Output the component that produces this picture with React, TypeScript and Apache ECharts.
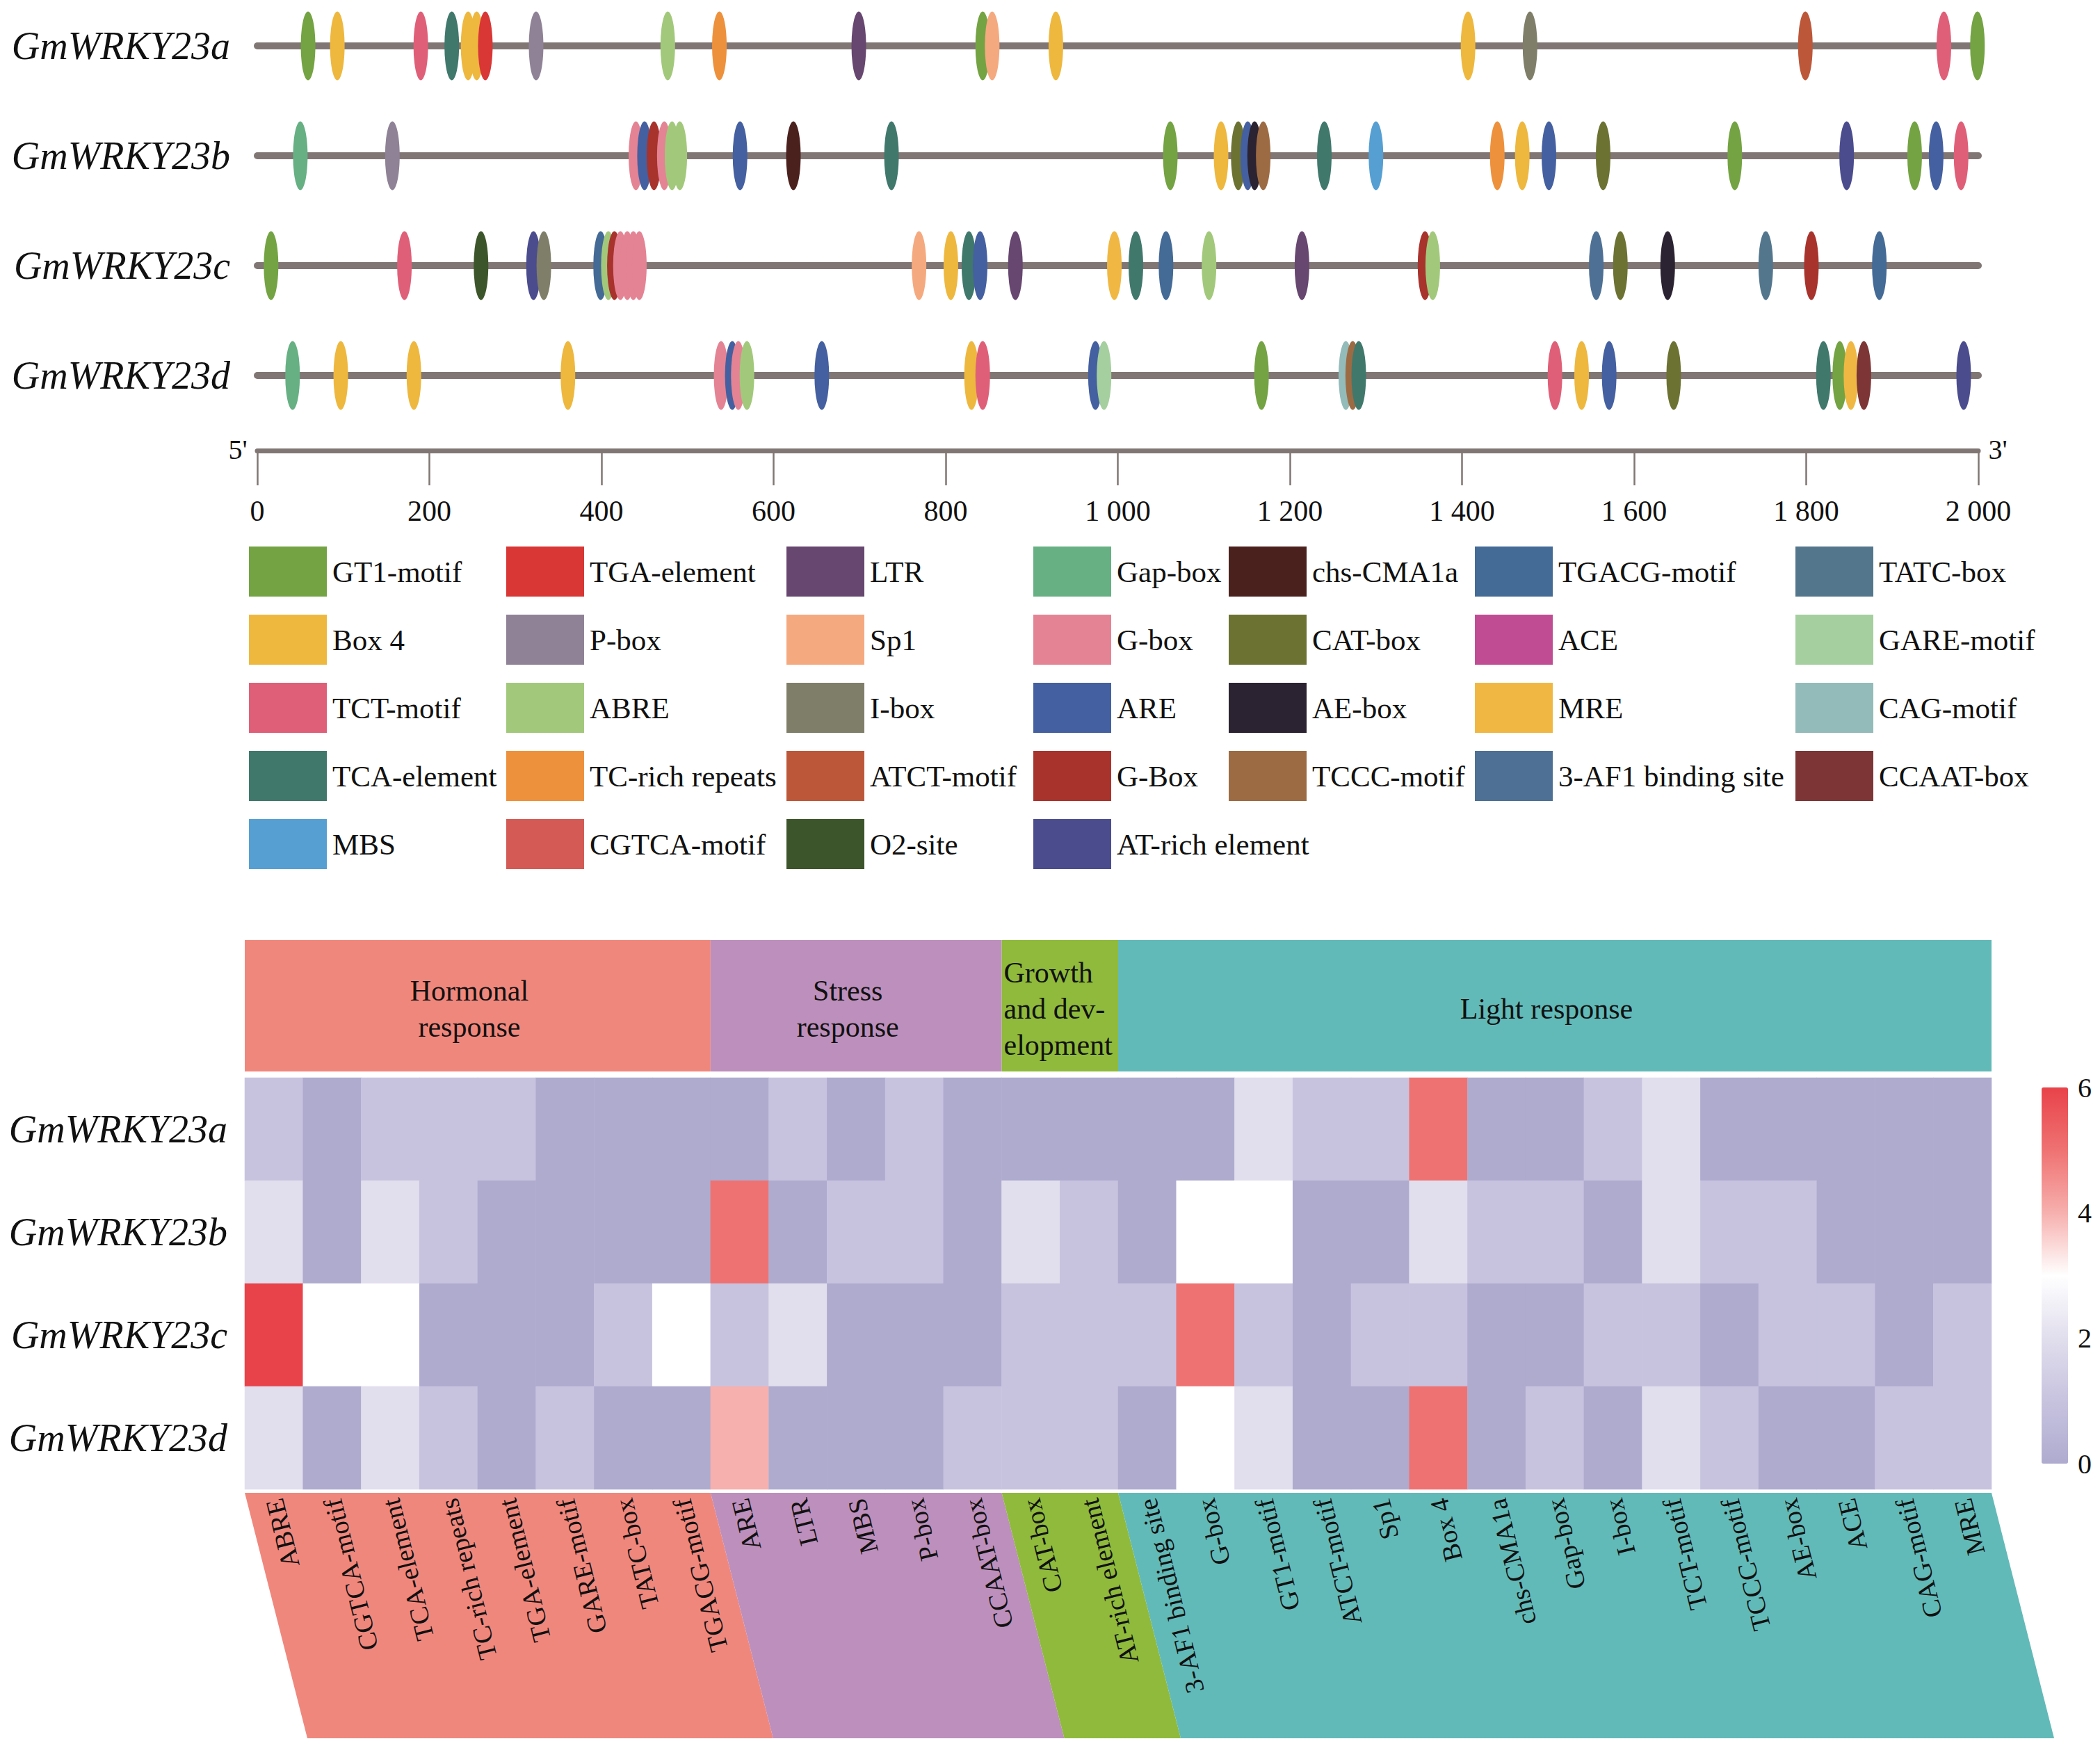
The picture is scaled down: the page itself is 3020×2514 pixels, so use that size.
import React, { useEffect, useRef } from 'react';
import * as echarts from 'echarts';

const SERIF = "'Liberation Serif', 'Times New Roman', serif";
const TEXT = '#111111';

const genes = ['GmWRKY23a', 'GmWRKY23b', 'GmWRKY23c', 'GmWRKY23d'];

const elementTypes = [
  'GT1-motif', 'TGA-element', 'LTR', 'Gap-box', 'chs-CMA1a', 'TGACG-motif', 'TATC-box',
  'Box 4', 'P-box', 'Sp1', 'G-box', 'CAT-box', 'ACE', 'GARE-motif',
  'TCT-motif', 'ABRE', 'I-box', 'ARE', 'AE-box', 'MRE', 'CAG-motif',
  'TCA-element', 'TC-rich repeats', 'ATCT-motif', 'G-Box', 'TCCC-motif', '3-AF1 binding site', 'CCAAT-box',
  'MBS', 'CGTCA-motif', 'O2-site', 'AT-rich element',
];
const elementColors = [
  '#74a343', '#d93636', '#674670', '#66b083', '#4b211e', '#446a96', '#53768d',
  '#eeb83f', '#8f8296', '#f5a97f', '#e48394', '#6c7232', '#c04d93', '#a5cf9f',
  '#e05f78', '#a2c97b', '#7f7e69', '#4460a0', '#2b2332', '#f0b843', '#93bbb9',
  '#40786c', '#ee913c', '#bd573a', '#a8332c', '#9d6b43', '#4e7094', '#7d3535',
  '#569fd2', '#d45a55', '#3d552a', '#4b4c8e',
];

const geneA: [number, string][] = [
  [59, 'GT1-motif'], [93, 'Box 4'], [190, 'TCT-motif'], [226, 'TCA-element'], [245, 'Box 4'],
  [255, 'Box 4'], [265, 'TGA-element'], [324, 'P-box'], [477, 'ABRE'], [537, 'TC-rich repeats'],
  [699, 'LTR'], [843, 'GT1-motif'], [854, 'Sp1'], [928, 'Box 4'], [1407, 'Box 4'],
  [1479, 'I-box'], [1799, 'ATCT-motif'], [1960, 'TCT-motif'], [1999, 'GT1-motif'],
];
const geneB: [number, string][] = [
  [50, 'Gap-box'], [157, 'P-box'], [440, 'G-box'], [450, 'ARE'], [461, 'G-Box'], [473, 'G-box'],
  [482, 'ABRE'], [491, 'ABRE'], [561, 'ARE'], [623, 'chs-CMA1a'], [737, 'TCA-element'],
  [1061, 'GT1-motif'], [1120, 'Box 4'], [1140, 'CAT-box'], [1151, 'ARE'], [1159, 'AE-box'],
  [1169, 'TCCC-motif'], [1240, 'TCA-element'], [1300, 'MBS'], [1441, 'TC-rich repeats'],
  [1470, 'Box 4'], [1501, 'ARE'], [1564, 'CAT-box'], [1717, 'GT1-motif'], [1847, 'AT-rich element'],
  [1926, 'GT1-motif'], [1951, 'ARE'], [1980, 'TCT-motif'],
];
const geneC: [number, string][] = [
  [16, 'GT1-motif'], [171, 'TCT-motif'], [260, 'O2-site'], [321, 'AT-rich element'], [333, 'I-box'],
  [399, 'TGACG-motif'], [408, 'ABRE'], [415, 'G-Box'], [422, 'G-box'], [430, 'G-box'],
  [437, 'G-box'], [444, 'G-box'], [769, 'Sp1'], [806, 'Box 4'], [827, 'TCA-element'],
  [840, 'ARE'], [881, 'LTR'], [996, 'MRE'], [1021, 'TCA-element'], [1056, 'TGACG-motif'],
  [1106, 'ABRE'], [1214, 'LTR'], [1357, 'G-Box'], [1366, 'ABRE'], [1556, '3-AF1 binding site'],
  [1584, 'CAT-box'], [1639, 'AE-box'], [1753, 'TATC-box'], [1806, 'G-Box'], [1885, 'TGACG-motif'],
];
const geneD: [number, string][] = [
  [41, 'Gap-box'], [97, 'Box 4'], [182, 'Box 4'], [361, 'Box 4'], [539, 'G-box'], [552, 'ARE'],
  [559, 'G-box'], [569, 'ABRE'], [656, 'ARE'], [830, 'Box 4'], [843, 'TCT-motif'], [974, 'ARE'],
  [984, 'GARE-motif'], [1167, 'GT1-motif'], [1265, 'CAG-motif'], [1273, 'TCCC-motif'],
  [1280, 'TCA-element'], [1508, 'TCT-motif'], [1539, 'Box 4'], [1571, 'ARE'], [1646, 'CAT-box'],
  [1820, 'TCA-element'], [1839, 'GT1-motif'], [1852, 'MRE'], [1867, 'CCAAT-box'],
  [1983, 'AT-rich element'],
];
const geneElements = [geneA, geneB, geneC, geneD];

const seqMin = 0;
const seqMax = 2000;
const seqStep = 200;

const motifColumns = [
  'ABRE', 'CGTCA-motif', 'TCA-element', 'TC-rich repeats', 'TGA-element', 'GARE-motif', 'TATC-box',
  'TGACG-motif', 'ARE', 'LTR', 'MBS', 'P-box', 'CCAAT-box', 'CAT-box', 'AT-rich element',
  '3-AF1 binding site', 'G-box', 'GT1-motif', 'ATCT-motif', 'Sp1', 'Box 4', 'chs-CMA1a', 'Gap-box',
  'I-box', 'TCT-motif', 'TCCC-motif', 'AE-box', 'ACE', 'CAG-motif', 'MRE',
];
const countsA = [1, 0, 1, 1, 1, 0, 0, 0, 0, 1, 0, 1, 0, 0, 0, 0, 0, 2, 1, 1, 5, 0, 0, 1, 2, 0, 0, 0, 0, 0];
const countsB = [2, 0, 2, 1, 0, 0, 0, 0, 5, 0, 1, 1, 0, 2, 1, 0, 3, 3, 0, 0, 2, 1, 1, 0, 2, 1, 1, 0, 0, 0];
const countsC = [6, 3, 3, 0, 0, 0, 1, 3, 1, 2, 0, 0, 0, 1, 1, 1, 5, 1, 0, 1, 1, 0, 0, 1, 1, 0, 1, 1, 0, 1];
const countsD = [2, 0, 2, 1, 0, 1, 0, 0, 4, 0, 0, 0, 1, 1, 1, 0, 3, 2, 0, 0, 5, 0, 1, 0, 2, 1, 0, 0, 1, 1];
const counts = [countsA, countsB, countsC, countsD];

const groupNames = ['Hormonal\nresponse', 'Stress\nresponse', 'Growth\nand dev-\nelopment', 'Light response'];
const groupSizes = [8, 5, 2, 15];
const groupColors = ['#f0877d', '#bd8fbc', '#8fba3c', '#62bab8'];

const colorbarTicks = [0, 2, 4, 6];
const colorMin = 0;
const colorMax = 6;
const colorStops = ['#aeabcf', '#c7c3df', '#e1deed', '#ffffff', '#f6b0ae', '#ef7272', '#e8434a'];

export default function App() {
  const ref = useRef<HTMLDivElement>(null);
  useEffect(() => {
    document.body.style.margin = '0';
    const chart = echarts.init(ref.current!, null, { renderer: 'svg' });

    const colorOf: Record<string, string> = {};
    elementTypes.forEach((t, i) => (colorOf[t] = elementColors[i]));

    const elementData = geneElements.flatMap((list, gi) =>
      [...list]
        .sort((a, b) => a[0] - b[0])
        .map(([pos, type]) => ({ value: [pos, genes[gi]], itemStyle: { color: colorOf[type], opacity: 1 } }))
    );

    const heatData: number[][] = [];
    counts.forEach((row, r) => row.forEach((v, c) => heatData.push([c, r, v])));

    let acc = 0;
    const groupData = groupSizes.map((n, i) => {
      const d = [acc, acc + n, i];
      acc += n;
      return d;
    });
    const nCols = motifColumns.length;

    const legendX = [358, 728, 1131, 1486, 1767, 2121, 2582];
    const legendColumns = legendX.map((_, j) => elementTypes.filter((_, i) => i % 7 === j));

    const cbLeft = 2936;
    const cbTop = 1564;
    const cbW = 38;
    const cbH = 541;
    const slant = 90;

    const geneLabel = {
      fontSize: 56,
      fontFamily: SERIF,
      fontStyle: 'italic',
      color: TEXT,
    };

    const series: any[] = [
      {
        type: 'heatmap',
        xAxisIndex: 1,
        yAxisIndex: 1,
        data: heatData,
        itemStyle: { borderWidth: 0 },
        emphasis: { disabled: true },
        silent: true,
      },
      ...genes.map((g) => ({
        type: 'line',
        xAxisIndex: 0,
        yAxisIndex: 0,
        data: [
          [seqMin, g],
          [seqMax, g],
        ],
        symbol: 'none',
        clip: false,
        silent: true,
        lineStyle: { color: '#807673', width: 10, cap: 'round' },
        z: 1,
      })),
      {
        type: 'scatter',
        xAxisIndex: 0,
        yAxisIndex: 0,
        data: elementData,
        symbol: 'circle',
        symbolSize: [21, 99],
        itemStyle: { opacity: 1 },
        clip: false,
        silent: true,
        z: 3,
      },
      {
        type: 'custom',
        xAxisIndex: 2,
        yAxisIndex: 2,
        data: groupData,
        silent: true,
        renderItem: (params: any, api: any) => {
          const s = api.value(0);
          const e = api.value(1);
          const gi = api.value(2);
          const p0 = api.coord([s, 1]);
          const p1 = api.coord([e, 0]);
          const narrow = e - s <= 2;
          return {
            type: 'group',
            children: [
              {
                type: 'rect',
                shape: { x: p0[0], y: p0[1], width: p1[0] - p0[0], height: p1[1] - p0[1] },
                style: { fill: groupColors[gi] },
              },
              {
                type: 'text',
                x: narrow ? p0[0] + 3 : (p0[0] + p1[0]) / 2 - 12,
                y: (p0[1] + p1[1]) / 2 + 4,
                style: {
                  text: groupNames[gi],
                  fill: TEXT,
                  fontSize: 42,
                  fontFamily: SERIF,
                  align: narrow ? 'left' : 'center',
                  verticalAlign: 'middle',
                  lineHeight: 52,
                },
              },
            ],
          };
        },
      },
      {
        type: 'custom',
        xAxisIndex: 3,
        yAxisIndex: 3,
        data: groupData,
        silent: true,
        z: 0,
        renderItem: (params: any, api: any) => {
          const s = api.value(0);
          const e = api.value(1);
          const gi = api.value(2);
          const p0 = api.coord([s, 1]);
          const p1 = api.coord([e, 0]);
          return {
            type: 'polygon',
            shape: {
              points: [
                [p0[0], p0[1]],
                [p1[0], p0[1]],
                [p1[0] + slant, p1[1]],
                [p0[0] + slant, p1[1]],
              ],
            },
            style: { fill: groupColors[gi] },
          };
        },
      },
      ...elementTypes.map((t, i) => ({
        type: 'scatter',
        name: t,
        xAxisIndex: 0,
        yAxisIndex: 0,
        data: [],
        itemStyle: { color: elementColors[i], opacity: 1 },
      })),
    ];

    const option: any = {
      animation: false,
      backgroundColor: '#ffffff',
      grid: [
        { left: 370, right: 175, top: 66, height: 474 },
        { left: 352, right: 156, top: 1550, height: 592 },
        { left: 352, right: 156, top: 1352, height: 189 },
        { left: 352, right: 156, top: 2147, height: 353 },
      ],
      xAxis: [
        {
          gridIndex: 0,
          type: 'value',
          min: seqMin,
          max: seqMax,
          interval: seqStep,
          position: 'bottom',
          offset: 108,
          axisLine: { show: true, lineStyle: { color: '#807673', width: 7 } },
          axisTick: { show: true, length: 50, lineStyle: { color: '#807673', width: 2.5 } },
          splitLine: { show: false },
          axisLabel: {
            margin: 66,
            fontSize: 42,
            fontFamily: SERIF,
            color: TEXT,
            formatter: (v: number) => (v >= 1000 ? `${Math.floor(v / 1000)} ${String(v % 1000).padStart(3, '0')}` : String(v)),
          },
        },
        {
          gridIndex: 1,
          type: 'category',
          data: motifColumns,
          position: 'bottom',
          z: 10,
          axisLine: { show: false },
          axisTick: { show: false },
          splitLine: { show: false },
          axisLabel: {
            interval: 0,
            rotate: 104,
            margin: 14,
            fontSize: 38,
            fontFamily: SERIF,
            color: TEXT,
          },
        },
        { gridIndex: 2, type: 'value', min: 0, max: nCols, show: false },
        { gridIndex: 3, type: 'value', min: 0, max: nCols, show: false },
      ],
      yAxis: [
        {
          gridIndex: 0,
          type: 'category',
          data: genes,
          inverse: true,
          boundaryGap: false,
          axisLine: { show: false },
          axisTick: { show: false },
          splitLine: { show: false },
          axisLabel: { ...geneLabel, margin: 39 },
        },
        {
          gridIndex: 1,
          type: 'category',
          data: genes,
          inverse: true,
          axisLine: { show: false },
          axisTick: { show: false },
          splitLine: { show: false },
          axisLabel: { ...geneLabel, margin: 25 },
        },
        { gridIndex: 2, type: 'value', min: 0, max: 1, show: false },
        { gridIndex: 3, type: 'value', min: 0, max: 1, show: false },
      ],
      visualMap: {
        type: 'continuous',
        seriesIndex: 0,
        min: colorMin,
        max: colorMax,
        calculable: false,
        orient: 'vertical',
        left: cbLeft,
        top: cbTop,
        itemWidth: cbW,
        itemHeight: cbH,
        padding: 0,
        text: undefined,
        showLabel: false,
        inRange: { color: colorStops },
      },
      legend: legendColumns.map((names, j) => ({
        data: names,
        orient: 'vertical',
        left: legendX[j],
        top: 786,
        itemWidth: 112,
        itemHeight: 72,
        itemGap: 26,
        padding: 0,
        icon: 'rect',
        selectedMode: false,
        itemStyle: { opacity: 1 },
        textStyle: { fontSize: 43, fontFamily: SERIF, color: TEXT, padding: [0, 0, 0, 3] },
      })),
      graphic: [
        {
          type: 'text',
          x: 342,
          y: 646,
          style: { text: "5'", fontSize: 40, fontFamily: SERIF, fill: TEXT, align: 'center', verticalAlign: 'middle' },
        },
        {
          type: 'text',
          x: 2873,
          y: 646,
          style: { text: "3'", fontSize: 40, fontFamily: SERIF, fill: TEXT, align: 'center', verticalAlign: 'middle' },
        },
        ...colorbarTicks.map((v) => ({
          type: 'text',
          x: cbLeft + cbW + 14,
          y: cbTop + cbH * (1 - (v - colorMin) / (colorMax - colorMin)),
          style: { text: String(v), fontSize: 40, fontFamily: SERIF, fill: TEXT, align: 'left', verticalAlign: 'middle' },
        })),
      ],
      series,
    };

    chart.setOption(option);
    return () => chart.dispose();
  }, []);
  return <div ref={ref} style={{ width: 3020, height: 2514 }} />;
}
